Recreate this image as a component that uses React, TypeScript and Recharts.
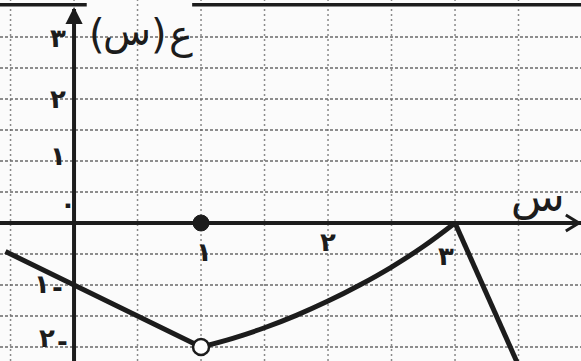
import { LineChart, Line, XAxis, YAxis, ReferenceLine, ReferenceDot } from 'recharts'

// piece 1: straight line through (0,-1) down to the open point at (1,-2)
const leftX = [-0.54, 0, 1]
const leftY = [-0.46, -1, -2]

// piece 2: curve from (1,-2) up to (3,0)
const curveX = [1, 1.25, 1.5, 1.75, 2, 2.25, 2.5, 2.75, 3]
const curveY = [-2, -1.86, -1.69, -1.49, -1.26, -1.0, -0.71, -0.38, 0]

// piece 3: steep line going down after x = 3
const rightX = [3, 3.5]
const rightY = [0, -2.3]

const gridX = [-0.5, 0, 0.5, 1, 1.5, 2, 2.5, 3, 3.5, 4]
const gridY = [-2, -1.5, -1, -0.5, 0.5, 1, 1.5, 2, 2.5, 3]

const yTickVals = [3, 2, 1, 0, -1, -2]
const yTickText = ['٣', '٢', '١', '٠', '١', '٢']
const xTickVals = [1, 2, 3]
const xTickText = ['١', '٢', '٣']

const toPoints = (xs: number[], ys: number[]) => xs.map((x, i) => ({ x, y: ys[i] }))

const INK = '#1c1c1c'
const BG = '#fbfbfb'
const FONT = 'DejaVu Sans, sans-serif'

// small nudges so the labels sit where they do in the drawing
const yTickOffset: Record<number, [number, number]> = {
  3: [-16, 10],
  2: [-16, 9],
  1: [-16, 4],
  0: [-6, -10],
  '-1': [-32, 8],
  '-2': [-27, 0],
}
const xTickOffset: Record<number, [number, number]> = {
  1: [3, 38],
  2: [0, 28],
  3: [-9, 42],
}

export default function App() {
  return (
    <div style={{ width: 581, height: 361, background: BG }}>
      <style>{'body{margin:0}'}</style>
      <LineChart width={581} height={361} margin={{ top: 0, right: 0, bottom: 0, left: 0 }}>
        <XAxis dataKey="x" type="number" domain={[-0.583, 3.992]} allowDataOverflow hide />
        <YAxis dataKey="y" type="number" domain={[-2.226, 3.597]} allowDataOverflow hide />

        {gridX.map((v) => (
          <ReferenceLine key={'gx' + v} x={v} stroke="#8a8a8a" strokeWidth={1.5} strokeDasharray="2 3" />
        ))}
        {gridY.map((v) => (
          <ReferenceLine key={'gy' + v} y={v} stroke="#6a6a6a" strokeWidth={1.6} strokeDasharray="3 2" />
        ))}

        {/* top border, broken where the function name sits */}
        <ReferenceLine segment={[{ x: -0.583, y: 3.52 }, { x: 0.1, y: 3.52 }]} stroke={INK} strokeWidth={3.5} />
        <ReferenceLine segment={[{ x: 0.93, y: 3.52 }, { x: 3.992, y: 3.52 }]} stroke={INK} strokeWidth={3.5} />

        {/* axes */}
        <ReferenceLine y={0} stroke={INK} strokeWidth={4} />
        <ReferenceLine segment={[{ x: 0, y: -2.226 }, { x: 0, y: 3.45 }]} stroke={INK} strokeWidth={4} />
        <ReferenceDot
          x={3.975}
          y={0}
          r={0}
          shape={(p: any) => (
            <path d={`M${p.cx - 13},${p.cy - 8} L${p.cx},${p.cy} L${p.cx - 13},${p.cy + 8}`} fill="none" stroke={INK} strokeWidth={3} />
          )}
        />
        <ReferenceDot
          x={0}
          y={3.45}
          r={0}
          shape={(p: any) => (
            <path d={`M${p.cx - 7},${p.cy + 14} L${p.cx},${p.cy} L${p.cx + 7},${p.cy + 14} Z`} fill={INK} stroke={INK} strokeWidth={2} />
          )}
        />

        <Line data={toPoints(leftX, leftY)} dataKey="y" type="linear" stroke={INK} strokeWidth={5} dot={false} activeDot={false} isAnimationActive={false} />
        <Line data={toPoints(curveX, curveY)} dataKey="y" type="monotone" stroke={INK} strokeWidth={5} dot={false} activeDot={false} isAnimationActive={false} />
        <Line data={toPoints(rightX, rightY)} dataKey="y" type="linear" stroke={INK} strokeWidth={5} dot={false} activeDot={false} isAnimationActive={false} />

        {/* closed point on the axis, open point at the bottom */}
        <ReferenceDot x={1} y={0} r={8} fill={INK} stroke={INK} strokeWidth={1} />
        <ReferenceDot x={1} y={-2} r={8} fill="#ffffff" stroke={INK} strokeWidth={2.5} />

        {yTickVals.map((v, i) => (
          <ReferenceDot
            key={'yt' + v}
            x={0}
            y={v}
            r={0}
            shape={(p: any) => {
              const tx = p.cx + yTickOffset[v][0]
              const ty = p.cy + yTickOffset[v][1]
              return (
                <g>
                  <text x={tx} y={ty} textAnchor="middle" fontFamily={FONT} fontWeight="bold" fontSize={26} fill={INK}>
                    {yTickText[i]}
                  </text>
                  {v < 0 && (
                    <text x={tx + 10} y={ty + 4} fontFamily={FONT} fontWeight="bold" fontSize={26} fill={INK}>
                      -
                    </text>
                  )}
                </g>
              )
            }}
          />
        ))}
        {xTickVals.map((v, i) => (
          <ReferenceDot
            key={'xt' + v}
            x={v}
            y={0}
            r={0}
            shape={(p: any) => (
              <text
                x={p.cx + xTickOffset[v][0]}
                y={p.cy + xTickOffset[v][1]}
                textAnchor="middle"
                fontFamily={FONT}
                fontWeight="bold"
                fontSize={26}
                fill={INK}
              >
                {xTickText[i]}
              </text>
            )}
          />
        ))}

        {/* function name, drawn glyph by glyph so the order stays as written on paper */}
        <ReferenceDot
          x={0}
          y={3}
          r={0}
          shape={(p: any) => (
            <g fontFamily={FONT} fill={INK} fontSize={40}>
              <text x={p.cx + 15} y={p.cy + 11}>(</text>
              <text x={p.cx + 29} y={p.cy + 8} textLength={48} lengthAdjust="spacingAndGlyphs">س</text>
              <text x={p.cx + 77} y={p.cy + 11}>)</text>
              <text x={p.cx + 95} y={p.cy + 11}>ع</text>
            </g>
          )}
        />
        {/* variable name on the horizontal axis */}
        <ReferenceDot
          x={3.55}
          y={0}
          r={0}
          shape={(p: any) => (
            <text x={p.cx - 14} y={p.cy - 12} fontFamily={FONT} fontSize={40} fill={INK} textLength={54} lengthAdjust="spacingAndGlyphs">
              س
            </text>
          )}
        />
      </LineChart>
    </div>
  )
}
